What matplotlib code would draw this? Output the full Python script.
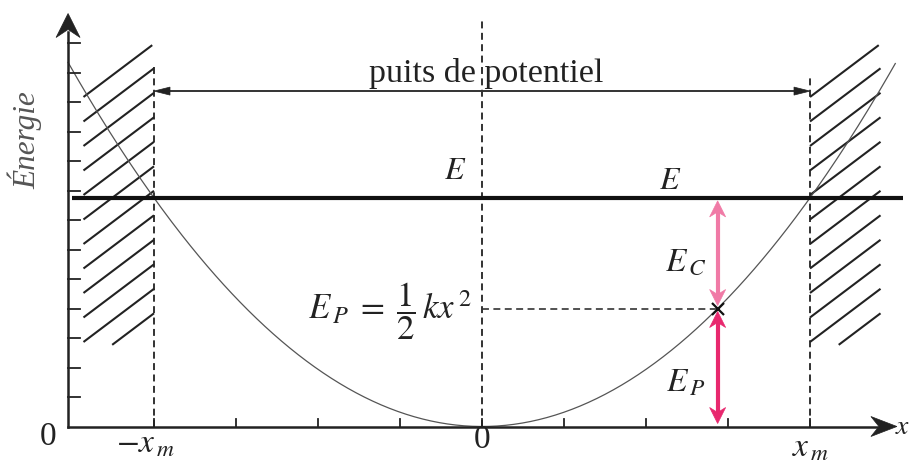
import numpy as np
import matplotlib
matplotlib.use("Agg")
import matplotlib.pyplot as plt
from matplotlib.patches import Polygon

plt.rcParams['font.family'] = ['Liberation Serif', 'DejaVu Serif']
plt.rcParams['mathtext.fontset'] = 'stix'
plt.rcParams['lines.scale_dashes'] = False

# --- model values (x in units of x_m, energy in units of one y tick) ---
x_m = 1.0
E_total = 7.75
x_particle = np.sqrt(4.0 / E_total) * x_m      # position where E_P = 4 ticks
x_curve = (-1.262, 1.26)
x_ticks = [-1.0, -0.75, -0.5, -0.25, 0.0, 0.25, 0.5, 0.75, 1.0]
y_ticks = list(range(1, 14))
wall_width = 0.215
x_label = "x"
y_label = "Énergie"
well_label = "puits de potentiel"

W, H = 913, 463
fig = plt.figure(figsize=(W / 100, H / 100), dpi=100)
ax = fig.add_axes([0, 0, 1, 1])
x0px, y0px, kx, ky = 482.0, 426.5, 328.0, 29.5
ax.set_xlim((0 - x0px) / kx, (W - x0px) / kx)
ax.set_ylim((y0px - H) / ky, y0px / ky)
ax.axis('off')
sx, sy = 1 / kx, 1 / ky   # data units per pixel


def head(tip, direction, length, width, notch=0.0, color='black', z=5):
    """Filled arrow head (sizes in pixels) whose tip points along direction."""
    dx, dy = direction
    tx, ty = tip
    px_, py_ = -dy, dx
    pts_px = [(0, 0),
              (-length * dx + width / 2 * px_, -length * dy + width / 2 * py_),
              (-(length - notch) * dx, -(length - notch) * dy),
              (-length * dx - width / 2 * px_, -length * dy - width / 2 * py_)]
    pts = [(tx + a * sx, ty + b * sy) for a, b in pts_px]
    ax.add_patch(Polygon(pts, closed=True, fc=color, ec=color, lw=0.5, zorder=z))


ax_left = x_curve[0]
x_end = 1.265
y_top = 14.0
ink = '#222222'

# axes with arrow heads
ax.plot([ax_left, x_end - 20 * sx], [0, 0], color=ink, lw=1.8, zorder=4)
head((x_end, 0), (1, 0), 26, 20, 8, color=ink)
ax.plot([ax_left, ax_left], [0, y_top - 18 * sy], color=ink, lw=1.8, zorder=4)
head((ax_left, y_top), (0, 1), 24, 24, 8, color=ink)
for t in x_ticks:
    ax.plot([t, t], [0, 8 * sy], color=ink, lw=1.3, zorder=4)
for t in y_ticks:
    ax.plot([ax_left, ax_left + 12 * sx], [t, t], color=ink, lw=1.3, zorder=4)

# walls (hatched regions outside the well)
y_clip = (2.76, 12.93)
slope = 0.754 * kx / ky
starts = [11.17 - 0.8305 * k for k in range(12)]
for xl in (-x_m - wall_width, x_m):
    xr = xl + wall_width
    for s in starts:
        xs = np.linspace(xl, xr, 200)
        ys = s + slope * (xs - xl)
        m = (ys >= y_clip[0]) & (ys <= y_clip[1])
        if m.sum() > 1:
            ax.plot(xs[m], ys[m], color=ink, lw=1.5, solid_capstyle='butt', zorder=3)

# dashed verticals
dash = (0, (5.0, 3.2))
ax.plot([0, 0], [0, 13.78], color=ink, lw=1.3, ls=dash, zorder=2)
ax.plot([-x_m, -x_m], [0, 12.2], color=ink, lw=1.3, ls=dash, zorder=2)
ax.plot([x_m, x_m], [0, 11.95], color=ink, lw=1.3, ls=dash, zorder=2)

# potential well width arrow
y_well = 11.37
ax.plot([-x_m + 14 * sx, x_m - 14 * sx], [y_well, y_well], color='#333333', lw=1.4, zorder=4)
head((-x_m, y_well), (-1, 0), 16, 8, 0, color=ink)
head((x_m, y_well), (1, 0), 16, 8, 0, color=ink)
ax.text(0.012, 11.98, well_label, fontsize=24.5, ha='center', va='center', color=ink)

# parabola E_P = 1/2 k x^2
xs = np.linspace(*x_curve, 400)
ax.plot(xs, E_total * (xs / x_m) ** 2, color='#555555', lw=0.9, zorder=3)

# total energy line
ax.plot([-1.25, 1.284], [E_total, E_total], color='#111111', lw=3.0, zorder=4, solid_capstyle='butt')
ax.text(-0.082, 8.63, r'$E$', fontsize=23, ha='center', va='center', color=ink)
ax.text(0.573, 8.29, r'$E$', fontsize=23, ha='center', va='center', color=ink)

# E_P level
ep = E_total * (x_particle / x_m) ** 2
ax.plot([0, x_particle], [ep, ep], color='#333333', lw=1.2, ls=dash, zorder=2)

# kinetic and potential energy arrows
c_light, c_dark = '#f07aa6', '#e8286e'
gap = 3
ax.plot([x_particle, x_particle], [E_total - 12 * sy, ep + 12 * sy], color=c_light, lw=3.0, zorder=5)
head((x_particle, E_total - gap * sy), (0, 1), 16, 16, 5, color=c_light, z=6)
head((x_particle, ep + gap * sy), (0, -1), 16, 16, 5, color=c_light, z=6)
ax.plot([x_particle, x_particle], [ep - 12 * sy, 0 + 12 * sy], color=c_dark, lw=3.0, zorder=5)
head((x_particle, ep - gap * sy), (0, 1), 16, 16, 5, color=c_dark, z=6)
head((x_particle, 0 + gap * sy), (0, -1), 16, 16, 5, color=c_dark, z=6)
ax.plot([x_particle], [ep], marker='x', ms=8, mew=1.6, color='#111111', zorder=7)

ax.text(0.622, 5.57, r'$E_{\,C}$', fontsize=24, ha='center', va='center', color=ink)
ax.text(0.622, 1.45, r'$E_{\,P}$', fontsize=24, ha='center', va='center', color=ink)
ax.text(-0.28, 3.9, r'$E_{\,P}\;=\;\dfrac{1}{2}\,kx^{\,2}$', fontsize=25, ha='center', va='center',
        color=ink)

# axis labels
ax.text(-1.393, 9.71, y_label, fontsize=22.5, style='italic', rotation=90, ha='center', va='center',
        color='#555555')
ax.text(-1.323, -0.36, '0', fontsize=24, ha='center', va='center', color=ink)
ax.text(0.0, -0.46, '0', fontsize=24, ha='center', va='center', color=ink)
ax.text(-1.027, -0.6, r'$-x_{\,m}$', fontsize=24, ha='center', va='center', color=ink)
ax.text(1.0, -0.75, r'$x_{\,m}$', fontsize=24, ha='center', va='center', color=ink)
ax.text((910 - x0px) / kx, -0.05, r'$' + x_label + '$', fontsize=20, ha='right', va='center', color=ink)

fig.savefig('out.png', dpi=100)
